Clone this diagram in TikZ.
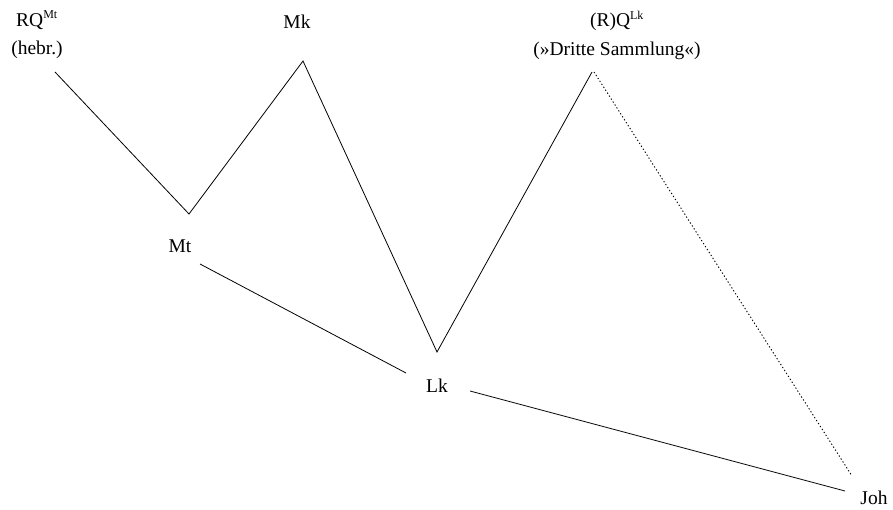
\documentclass[tikz,border=0pt]{standalone}
\usepackage{fontspec}
\setmainfont{Liberation Serif}
\newcommand{\supsm}[1]{\textsuperscript{\fontsize{12}{12}\selectfont #1}}
\begin{document}
\begin{tikzpicture}[x=1pt,y=-1pt,
  lbl/.style={inner sep=0pt, font=\fontsize{19.5}{28.5}\selectfont, align=center},
  edge/.style={line width=0.8pt},
  dotedge/.style={line width=0.9pt, dash pattern=on 1.3pt off 2.2pt}]
\useasboundingbox (0,0) rectangle (893,510);
\node[lbl] (rqmt) at (37,35) {RQ\supsm{Mt}\\(hebr.)};
\node[lbl] (mk) at (297,22) {Mk};
\node[lbl] (qlk) at (617,35) {(R)Q\supsm{Lk}\\(»Dritte Sammlung«)};
\node[lbl] (mt) at (180,246) {Mt};
\node[lbl] (lk) at (437,386) {Lk};
\node[lbl] (joh) at (874,498) {Joh};
\coordinate (rqE) at (55,72);
\coordinate (mtV) at (189,214);
\coordinate (mkV) at (303,61);
\coordinate (lkV) at (437,352);
\coordinate (qV) at (592,72);
\coordinate (qVd) at (594,72);
\coordinate (jV) at (852,476);
\coordinate (mtS) at (200,264);
\coordinate (lkW) at (406,373);
\coordinate (lkE) at (470,391);
\coordinate (johW) at (845,491);
\draw[edge] (rqE) -- (mtV) -- (mkV) -- (lkV) -- (qV);
\draw[dotedge] (qVd) -- (jV);
\draw[edge] (mtS) -- (lkW);
\draw[edge] (lkE) -- (johW);
\end{tikzpicture}
\end{document}
